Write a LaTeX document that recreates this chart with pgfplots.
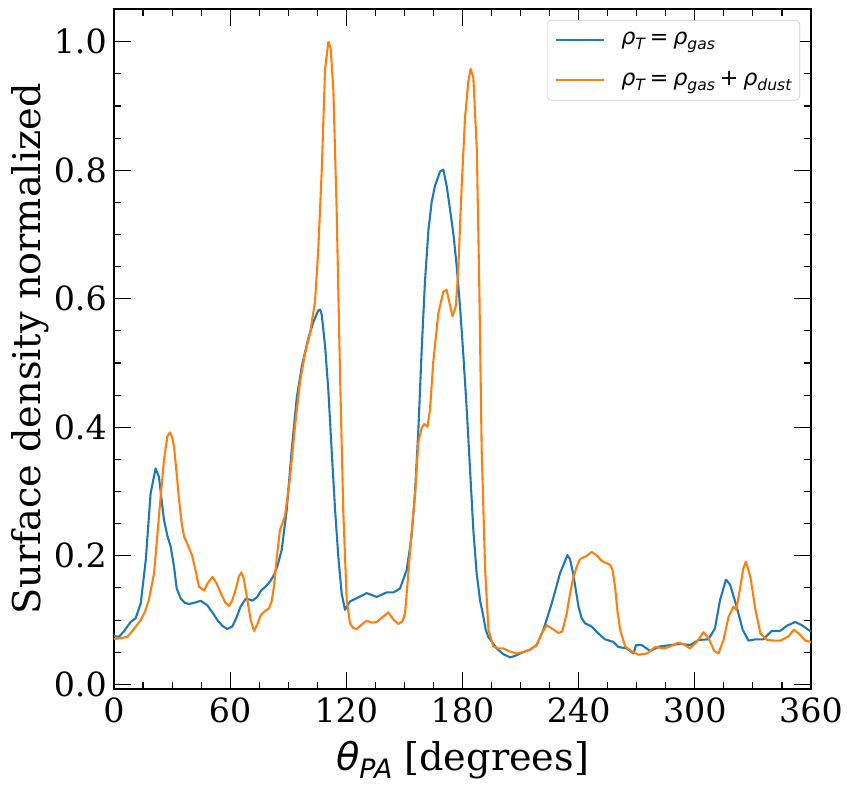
\documentclass[border=0pt]{standalone}
\usepackage{fontspec}
\setmainfont{DejaVu Serif}
\newfontfamily\dvs{DejaVu Sans}
\usepackage{pgfplots}
\pgfplotsset{compat=1.18}
\definecolor{mblue}{RGB}{31,119,180}
\definecolor{morange}{RGB}{255,127,14}
\newcommand{\lsub}[1]{\raisebox{-0.22em}{\fontsize{11.2}{12}\selectfont\itshape #1}}
\newcommand{\xsub}[1]{\raisebox{-0.22em}{\fontsize{19.25}{21}\selectfont\itshape #1}}
\newcommand{\lsp}{\hspace{0.22em}}
\begin{document}
\begin{tikzpicture}
\begin{axis}[
  scale only axis,
  width=501.84pt, height=489.6pt,
  xmin=0, xmax=360, ymin=-0.0073, ymax=1.051,
  xtick={0,60,120,180,240,300,360},
  ytick={0,0.2,0.4,0.6,0.8,1.0},
  minor x tick num=3, minor y tick num=3,
  tick align=inside, xtick pos=both, ytick pos=both,
  major tick length=12pt, minor tick length=4.8pt,
  every tick/.style={black, line width=0.8pt},
  axis line style={line width=0.8pt},
  /pgf/number format/assume math mode=true,
  ticklabel style={font=\fontsize{24}{28}\selectfont},
  xticklabel style={inner sep=0pt, yshift=-6pt},
  yticklabel style={inner sep=0pt, xshift=-5pt, /pgf/number format/.cd, fixed, fixed zerofill, precision=1},
  xlabel={{\dvs\itshape θ\xsub{PA}} [degrees]},
  ylabel={Surface density normalized},
  label style={font=\fontsize{27.5}{32}\selectfont},
  xlabel style={at={(axis description cs:0.5,-0.1044)}, anchor=center},
  ylabel style={at={(axis description cs:-0.1206,0.5)}, anchor=center},
  legend style={at={(1,1)}, anchor=north east, xshift=-7.9pt, yshift=-7.9pt,
    draw=black!20, rounded corners=3pt, fill=white,
    font=\dvs\fontsize{16}{19}\selectfont, inner xsep=6pt, inner ysep=8.8pt,
    row sep=18pt, column sep=12pt,
    nodes={inner sep=0pt}},
  legend cell align=left,
  legend image code/.code={\draw[#1] (0pt,0pt) -- (34pt,0pt);},
  every axis plot/.append style={line width=1.5pt, line join=round},
]
\addplot[mblue] table {
0 0.075
2.6 0.074
5 0.082
8.6 0.097
11.2 0.103
13.8 0.126
16.4 0.193
18.9 0.297
21.5 0.336
23.2 0.323
25.8 0.256
27.5 0.232
29.3 0.214
31 0.183
32.4 0.149
34.4 0.134
36.5 0.127
38.7 0.125
41.5 0.127
44.8 0.130
48.2 0.123
50.8 0.112
53.4 0.100
56 0.091
58.5 0.086
61.1 0.090
63.3 0.104
65.4 0.121
68 0.133
70 0.132
71.5 0.130
74 0.136
76 0.146
78.3 0.152
80.6 0.160
82.6 0.170
84.5 0.185
86.6 0.209
89.2 0.271
91.8 0.365
94.4 0.446
97.0 0.495
100.4 0.539
103 0.564
105.5 0.582
106.5 0.583
107.3 0.575
109 0.527
110.7 0.458
112.4 0.365
114.2 0.271
115.9 0.197
117.6 0.141
119.3 0.116
121.9 0.129
126 0.135
130.5 0.142
135.7 0.136
140.8 0.143
144.3 0.143
147.7 0.149
151.2 0.178
153.7 0.230
155.5 0.300
157.2 0.396
158.9 0.520
160.6 0.626
162.4 0.707
164.1 0.751
165.8 0.776
168.4 0.798
170.1 0.801
171.8 0.776
173.6 0.738
175.3 0.701
177 0.651
178.7 0.589
180.4 0.514
182.2 0.427
183.9 0.334
185.6 0.240
187.3 0.173
189.1 0.130
190.8 0.105
192 0.085
193.3 0.074
197.6 0.056
201 0.047
204.5 0.042
207 0.044
209.7 0.048
214.9 0.054
218.3 0.061
221.8 0.085
226.1 0.126
230.4 0.173
234.2 0.201
235.5 0.195
237.3 0.170
239.9 0.121
241.5 0.103
243.3 0.095
246.7 0.090
250.2 0.079
253.6 0.070
257.9 0.066
260.5 0.058
264.8 0.056
268.3 0.048
269.6 0.061
272.6 0.061
276.9 0.052
282 0.059
287.2 0.061
292.4 0.063
297.5 0.061
301.8 0.069
307 0.070
310.4 0.087
313 0.131
316.1 0.163
318.2 0.155
321.6 0.121
324.7 0.085
327.7 0.068
331.1 0.070
335.4 0.070
339.7 0.083
344 0.083
347.5 0.091
351.8 0.097
355.3 0.092
360 0.082
};
\addlegendentry{\itshape ρ\lsub{T}\upshape\lsp=\lsp\itshape ρ\lsub{gas}}
\addplot[morange] table {
0 0.0705
4 0.072
6.9 0.074
10 0.085
13.8 0.100
16 0.113
18 0.131
20.7 0.173
23.2 0.261
25.8 0.349
27.5 0.385
28.8 0.392
30 0.385
31 0.370
32.3 0.330
33.6 0.287
35 0.250
36.2 0.230
38.5 0.214
40.5 0.199
42.5 0.172
43.9 0.152
46.5 0.146
48.5 0.158
50.8 0.167
53 0.157
55.1 0.142
57.5 0.127
59.4 0.122
61 0.130
62.8 0.147
64.5 0.168
65.8 0.174
67 0.165
68 0.147
69.5 0.120
70.6 0.100
72.3 0.083
74 0.093
75.8 0.108
78 0.114
80 0.118
81.5 0.130
82.6 0.152
84 0.195
85.7 0.240
88.3 0.262
90.9 0.321
93.5 0.402
96.1 0.471
98.6 0.514
101.2 0.545
103.8 0.595
105.5 0.676
107.3 0.800
109 0.956
110.7 1.0
111.9 0.990
113.3 0.925
115 0.738
116.7 0.489
118.4 0.271
120.2 0.131
121.9 0.095
123.5 0.088
125.3 0.086
127.5 0.092
130.5 0.099
133 0.096
135.7 0.097
138.5 0.104
141.7 0.112
144.5 0.100
146.9 0.094
149 0.098
150.3 0.110
152.1 0.175
153.5 0.230
155.5 0.295
157.2 0.377
158.9 0.399
160.2 0.405
161.9 0.401
163.2 0.427
164.9 0.502
167.5 0.577
170.1 0.611
171.8 0.614
173.6 0.589
174.9 0.573
176.6 0.589
177.8 0.645
179.5 0.770
181.3 0.882
183 0.938
184.2 0.958
185.6 0.944
187.4 0.832
188.7 0.614
189.9 0.365
191.7 0.178
193.4 0.085
195.9 0.059
198.5 0.056
201 0.056
204.5 0.051
207.9 0.048
211 0.050
214.9 0.054
218.3 0.061
220.9 0.079
223.5 0.092
226.1 0.087
229.5 0.080
231.5 0.082
233.8 0.110
235.6 0.142
237.3 0.167
239 0.183
240.7 0.195
244.2 0.200
246.7 0.206
249.3 0.201
251.9 0.192
256.2 0.186
257.5 0.178
258.8 0.152
260 0.115
261.4 0.085
264 0.059
267.5 0.051
270.9 0.046
275.2 0.048
279.5 0.058
284.7 0.056
288 0.060
291.6 0.065
294.5 0.062
297.5 0.056
301 0.066
304.5 0.081
307 0.072
310 0.052
312.2 0.048
314.8 0.069
317.4 0.105
320 0.121
321.4 0.116
323.5 0.152
325 0.180
326.4 0.191
328.7 0.167
331.3 0.116
333.9 0.079
337.3 0.069
341 0.068
344.2 0.068
348.5 0.075
351.1 0.085
353.7 0.079
357.1 0.068
360 0.066
};
\addlegendentry{\itshape ρ\lsub{T}\upshape\lsp=\lsp\itshape ρ\lsub{gas}\upshape\lsp+\lsp\itshape ρ\lsub{dust}}
\end{axis}
\pgfresetboundingbox
\path[use as bounding box] ([shift={(-82.08pt,-69.12pt)}]current axis.south west) rectangle ([shift={(30.96pt,6.48pt)}]current axis.north east);
\end{tikzpicture}
\end{document}
